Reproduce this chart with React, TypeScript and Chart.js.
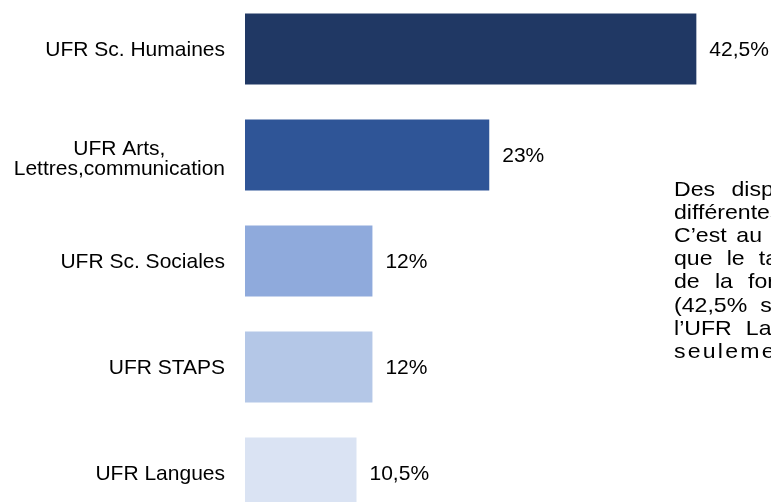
import React, { useEffect, useRef } from "react";
import { Chart, registerables } from "chart.js";

Chart.register(...registerables);

const categories: (string | string[])[] = [
  "UFR Sc. Humaines",
  ["UFR Arts,", "Lettres,communication"],
  "UFR Sc. Sociales",
  "UFR STAPS",
  "UFR Langues",
];
const values = [42.5, 23, 12, 12, 10.5];
const valueLabels = ["42,5%", "23%", "12%", "12%", "10,5%"];
const barColors = ["#203864", "#2F5597", "#8FAADC", "#B4C7E7", "#DAE3F3"];
const xMax = 50;

const paragraphLines = [
  { text: "Des disparités importantes entre les", ws: 9, ls: 0 },
  { text: "différentes UFR sont observées.", ws: 0, ls: 0 },
  { text: "C’est au sein de l’UFR Sciences", ws: 3, ls: 0 },
  { text: "que le taux de réponse au bilan", ws: 7, ls: 0 },
  { text: "de la formation est le plus élevé", ws: 8, ls: 0 },
  { text: "(42,5% soit 17 répondants), alors que", ws: 6, ls: 0 },
  { text: "l’UFR Langues ne représente que", ws: 7, ls: 0 },
  { text: "seulement 10,5% des répondants.", ws: 0, ls: 2 },
];

const FONT = "'Liberation Sans', Arial, Helvetica, sans-serif";
const FONT_SIZE = 21;

const labelPlugin = {
  id: "customLabels",
  afterDatasetsDraw(chart: any) {
    const ctx = chart.ctx;
    const meta = chart.getDatasetMeta(0);
    const yScale = chart.scales.y;
    ctx.save();
    ctx.fillStyle = "#000000";
    ctx.font = `${FONT_SIZE}px ${FONT}`;
    ctx.textBaseline = "middle";
    // value labels
    meta.data.forEach((el: any, i: number) => {
      ctx.textAlign = "left";
      ctx.fillText(valueLabels[i], el.x + 13, el.y + 1);
    });
    // category labels
    const rightEdge = 225;
    const lineH = 19.5;
    categories.forEach((cat, i) => {
      const y = yScale.getPixelForValue(i);
      const lines = Array.isArray(cat) ? cat : [cat];
      const widths = lines.map((l) => ctx.measureText(l).width);
      const blockW = Math.max(...widths);
      const cx = rightEdge - blockW / 2;
      const startY = y - ((lines.length - 1) * lineH) / 2 + (lines.length > 1 ? 4 : 1);
      lines.forEach((l, j) => {
        ctx.textAlign = "center";
        ctx.fillText(l, cx, startY + j * lineH);
      });
    });
    ctx.restore();
  },
};

export default function App() {
  const canvasRef = useRef<HTMLCanvasElement>(null);

  useEffect(() => {
    if (!canvasRef.current) return;
    const chart = new Chart(canvasRef.current, {
      type: "bar",
      data: {
        labels: categories as any,
        datasets: [
          {
            data: values,
            backgroundColor: barColors,
            borderWidth: 0,
            categoryPercentage: 1,
            barPercentage: 0.67,
          },
        ],
      },
      options: {
        indexAxis: "y",
        responsive: false,
        maintainAspectRatio: false,
        animation: false,
        layout: { padding: { left: 245, right: 0, top: 0, bottom: 0 } },
        plugins: {
          legend: { display: false },
          tooltip: { enabled: false },
        },
        scales: {
          x: { display: false, min: 0, max: xMax },
          y: { display: false },
        },
      },
      plugins: [labelPlugin],
    });
    return () => chart.destroy();
  }, []);

  return (
    <div
      style={{
        position: "fixed",
        left: 0,
        top: 0,
        width: 771,
        height: 502,
        overflow: "hidden",
        background: "#ffffff",
      }}
    >
      <canvas
        ref={canvasRef}
        width={776}
        height={530}
        style={{ position: "absolute", left: 0, top: -4, width: 776, height: 530 }}
      />
      <div
        style={{
          position: "absolute",
          left: 674,
          top: 176.6,
          fontFamily: FONT,
          fontSize: FONT_SIZE,
          lineHeight: "23.2px",
          color: "#000000",
          whiteSpace: "nowrap",
          transform: "scaleX(1.1)",
          transformOrigin: "0 0",
        }}
      >
        {paragraphLines.map((l, i) => (
          <div key={i} style={{ wordSpacing: l.ws, letterSpacing: l.ls }}>
            {l.text}
          </div>
        ))}
      </div>
    </div>
  );
}
